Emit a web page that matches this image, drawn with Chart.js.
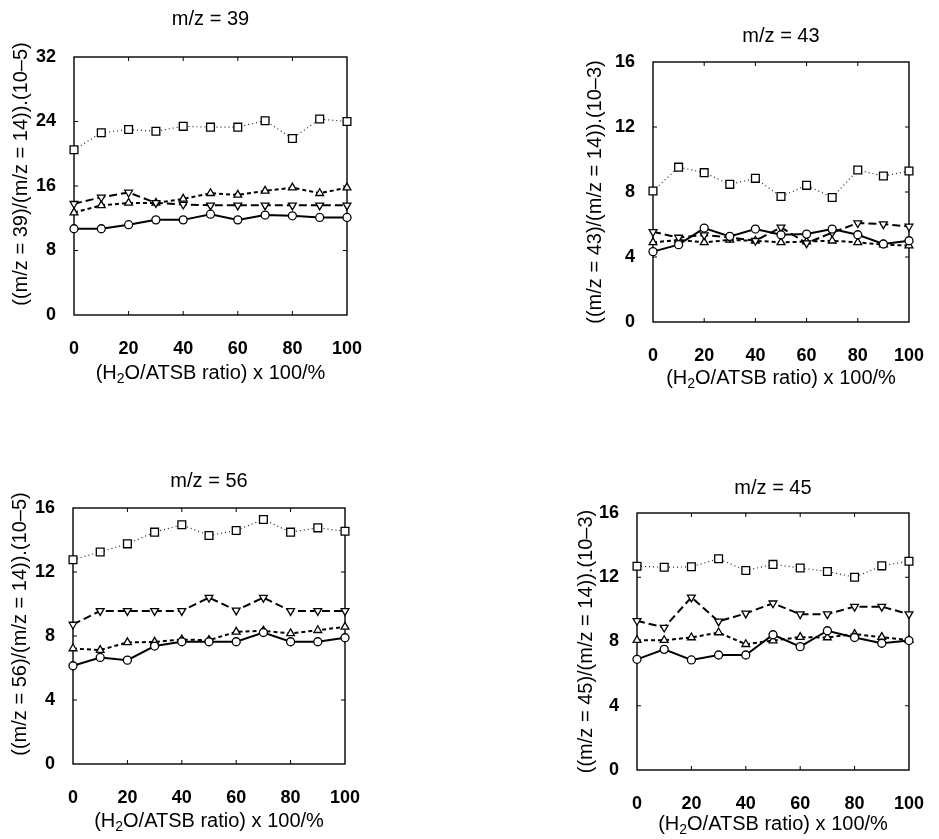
<!DOCTYPE html>
<html>
<head>
<meta charset="utf-8">
<script src="https://cdn.jsdelivr.net/npm/chart.js@4.4.1/dist/chart.umd.min.js"></script>
<style>
  body { margin: 0; background: #fff; }
  canvas { position: absolute; }
</style>
</head>
<body>
<canvas id="p39" width="470" height="420" style="left:0;top:0"></canvas>
<canvas id="p43" width="469" height="420" style="left:470px;top:0"></canvas>
<canvas id="p56" width="470" height="419" style="left:0;top:420px"></canvas>
<canvas id="p45" width="469" height="419" style="left:470px;top:420px"></canvas>
<script>
// H2O/ATSB ratio x 100 (%)
const ratio = [0, 10, 20, 30, 40, 50, 60, 70, 80, 90, 100];

// m/z = 39 relative to m/z = 14 (x 10^-5)
const mz39Square = [20.5, 22.6, 23.0, 22.8, 23.4, 23.3, 23.3, 24.1, 21.9, 24.3, 24.0];
const mz39Up     = [12.7, 13.6, 13.9, 13.9, 14.4, 15.1, 14.9, 15.4, 15.8, 15.1, 15.8];
const mz39Down   = [13.8, 14.6, 15.2, 13.9, 13.7, 13.6, 13.6, 13.6, 13.6, 13.6, 13.6];
const mz39Circle = [10.7, 10.7, 11.2, 11.8, 11.8, 12.5, 11.8, 12.4, 12.3, 12.1, 12.1];

// m/z = 43 relative to m/z = 14 (x 10^-3)
const mz43Square = [8.06, 9.53, 9.19, 8.47, 8.84, 7.72, 8.41, 7.66, 9.35, 8.98, 9.29];
const mz43Up     = [4.9, 5.05, 4.9, 5.05, 5.0, 4.9, 4.95, 5.0, 4.9, 4.76, 4.7];
const mz43Down   = [5.55, 5.2, 5.35, 5.2, 5.0, 5.82, 4.85, 5.5, 6.09, 6.02, 5.88];
const mz43Circle = [4.33, 4.76, 5.78, 5.27, 5.72, 5.37, 5.41, 5.72, 5.37, 4.8, 5.0];

// m/z = 56 relative to m/z = 14 (x 10^-5)
const mz56Square = [12.77, 13.25, 13.76, 14.49, 14.95, 14.28, 14.59, 15.28, 14.49, 14.76, 14.55];
const mz56Up     = [7.22, 7.12, 7.6, 7.63, 7.78, 7.74, 8.26, 8.32, 8.16, 8.36, 8.57];
const mz56Down   = [8.72, 9.57, 9.57, 9.57, 9.57, 10.4, 9.6, 10.4, 9.57, 9.57, 9.57];
const mz56Circle = [6.14, 6.66, 6.49, 7.37, 7.64, 7.64, 7.64, 8.22, 7.64, 7.64, 7.89];

// m/z = 45 relative to m/z = 14 (x 10^-3)
const mz45Square = [12.69, 12.62, 12.65, 13.15, 12.42, 12.8, 12.58, 12.36, 12.0, 12.71, 13.0];
const mz45Up     = [8.08, 8.08, 8.25, 8.56, 7.83, 8.06, 8.27, 8.25, 8.46, 8.27, 8.08];
const mz45Down   = [9.29, 8.87, 10.75, 9.25, 9.75, 10.38, 9.7, 9.7, 10.17, 10.17, 9.7];
const mz45Circle = [6.89, 7.51, 6.85, 7.16, 7.16, 8.42, 7.68, 8.67, 8.25, 7.89, 8.06];

const xTicks = [0, 20, 40, 60, 80, 100];
const yTicks39 = [0, 8, 16, 24, 32];
const yTicks16 = [0, 4, 8, 12, 16];

const FONT = '"Liberation Sans", Arial, Helvetica, sans-serif';

// box + inward ticks, titles, subscripted x title
const framePlugin = {
  id: 'frame',
  beforeDatasetsDraw(chart) {
    const { ctx, chartArea: a, scales: { x, y } } = chart;
    ctx.save();
    ctx.strokeStyle = '#000';
    ctx.lineWidth = 1.4;
    ctx.strokeRect(a.left, a.top, a.right - a.left, a.bottom - a.top);
    ctx.lineWidth = 1;
    ctx.beginPath();
    x.ticks.forEach(t => {
      const px = x.getPixelForValue(t.value);
      if (px < a.left + 2 || px > a.right - 2) return;
      ctx.moveTo(px, a.bottom); ctx.lineTo(px, a.bottom - 4);
      ctx.moveTo(px, a.top); ctx.lineTo(px, a.top + 4);
    });
    y.ticks.forEach(t => {
      const py = y.getPixelForValue(t.value);
      if (py < a.top + 2 || py > a.bottom - 2) return;
      ctx.moveTo(a.left, py); ctx.lineTo(a.left + 4, py);
      ctx.moveTo(a.right, py); ctx.lineTo(a.right - 4, py);
    });
    ctx.stroke();
    ctx.restore();
  },
  afterDraw(chart, args, opts) {
    const { ctx, chartArea: a } = chart;
    const cx = (a.left + a.right) / 2;
    ctx.save();
    ctx.fillStyle = '#000';
    ctx.textBaseline = 'middle';
    ctx.textAlign = 'center';
    ctx.font = '20px ' + FONT;
    ctx.fillText(opts.title, cx, a.top - opts.titleGap);

    ctx.save();
    ctx.translate(a.left - opts.yTitleGap, (a.top + a.bottom) / 2 - opts.yTitleLift);
    ctx.rotate(-Math.PI / 2);
    ctx.fillText(opts.yTitle, 0, 0);
    ctx.restore();

    // (H2O/ATSB ratio) x 100/%
    const parts = [['(H', 20, 0], ['2', 14, 6], ['O/ATSB ratio) x 100/%', 20, 0]];
    let total = 0;
    parts.forEach(p => { ctx.font = p[1] + 'px ' + FONT; total += ctx.measureText(p[0]).width; });
    let px = cx - total / 2;
    const py = a.bottom + opts.xTitleGap;
    ctx.textAlign = 'left';
    parts.forEach(p => {
      ctx.font = p[1] + 'px ' + FONT;
      ctx.fillText(p[0], px, py + p[2]);
      px += ctx.measureText(p[0]).width;
    });
    ctx.restore();
  }
};

function series(values, style) {
  return Object.assign({
    data: values.map((v, i) => ({ x: ratio[i], y: v })),
    borderColor: '#000',
    pointBorderColor: '#000',
    pointBackgroundColor: '#fff',
    pointBorderWidth: 1.3,
    tension: 0,
    clip: false
  }, style);
}

function makePanel(id, title, yTitle, yTicks, sets, box) {
  const canvas = document.getElementById(id);
  const yMax = yTicks[yTicks.length - 1];
  const tickFont = { family: FONT, size: 18, weight: 'bold' };
  return new Chart(canvas, {
    type: 'line',
    data: {
      datasets: [
        series(sets[3], { borderWidth: 2, pointStyle: 'circle', pointRadius: 4 }),
        series(sets[2], { borderWidth: 2, borderDash: [8, 4], pointStyle: 'triangle', rotation: 180, pointRadius: 4.5 }),
        series(sets[1], { borderWidth: 2, borderDash: [4, 3], pointStyle: 'triangle', pointRadius: 4.5 }),
        series(sets[0], { borderWidth: 1.2, borderDash: [1, 3], borderColor: '#222', pointStyle: 'rect', pointRadius: 5.5 })
      ]
    },
    options: {
      responsive: false,
      animation: false,
      events: [],
      layout: {
        padding: {
          left: 0,
          top: box.top,
          right: canvas.width - box.right,
          bottom: canvas.height - box.bottom - 40
        }
      },
      plugins: {
        legend: { display: false },
        tooltip: { enabled: false },
        frame: {
          title: title, yTitle: yTitle,
          titleGap: box.titleGap, yTitleGap: box.yTitleGap, yTitleLift: box.yTitleLift, xTitleGap: box.xTitleGap
        }
      },
      scales: {
        x: {
          type: 'linear',
          min: 0,
          max: 100,
          afterBuildTicks: s => { s.ticks = xTicks.map(v => ({ value: v })); },
          afterFit: s => { s.height = 40; },
          ticks: { font: tickFont, color: '#000', padding: 15, maxRotation: 0, autoSkip: false },
          grid: { display: false },
          border: { display: false }
        },
        y: {
          type: 'linear',
          min: 0,
          max: yMax,
          afterBuildTicks: s => { s.ticks = yTicks.map(v => ({ value: v })); },
          afterFit: s => { s.width = box.left; },
          ticks: { font: tickFont, color: '#000', padding: 10, autoSkip: false },
          grid: { display: false },
          border: { display: false }
        }
      }
    },
    plugins: [framePlugin]
  });
}

makePanel('p39', 'm/z = 39', '((m/z = 39)/(m/z = 14)).(10–5)', yTicks39,
  [mz39Square, mz39Up, mz39Down, mz39Circle],
  { left: 74, top: 57, right: 347, bottom: 315, titleGap: 38, yTitleGap: 53, yTitleLift: 12, xTitleGap: 58 });

makePanel('p43', 'm/z = 43', '((m/z = 43)/(m/z = 14)).(10–3)', yTicks16,
  [mz43Square, mz43Up, mz43Down, mz43Circle],
  { left: 183, top: 62, right: 453, bottom: 322, titleGap: 26, yTitleGap: 58, yTitleLift: 0, xTitleGap: 56 });

makePanel('p56', 'm/z = 56', '((m/z = 56)/(m/z = 14)).(10–5)', yTicks16,
  [mz56Square, mz56Up, mz56Down, mz56Circle],
  { left: 73, top: 88, right: 345, bottom: 344, titleGap: 27, yTitleGap: 53, yTitleLift: 12, xTitleGap: 57 });

makePanel('p45', 'm/z = 45', '((m/z = 45)/(m/z = 14)).(10–3)', yTicks16,
  [mz45Square, mz45Up, mz45Down, mz45Circle],
  { left: 167, top: 93, right: 443, bottom: 350, titleGap: 25, yTitleGap: 51, yTitleLift: 0, xTitleGap: 54 });
</script>
</body>
</html>
